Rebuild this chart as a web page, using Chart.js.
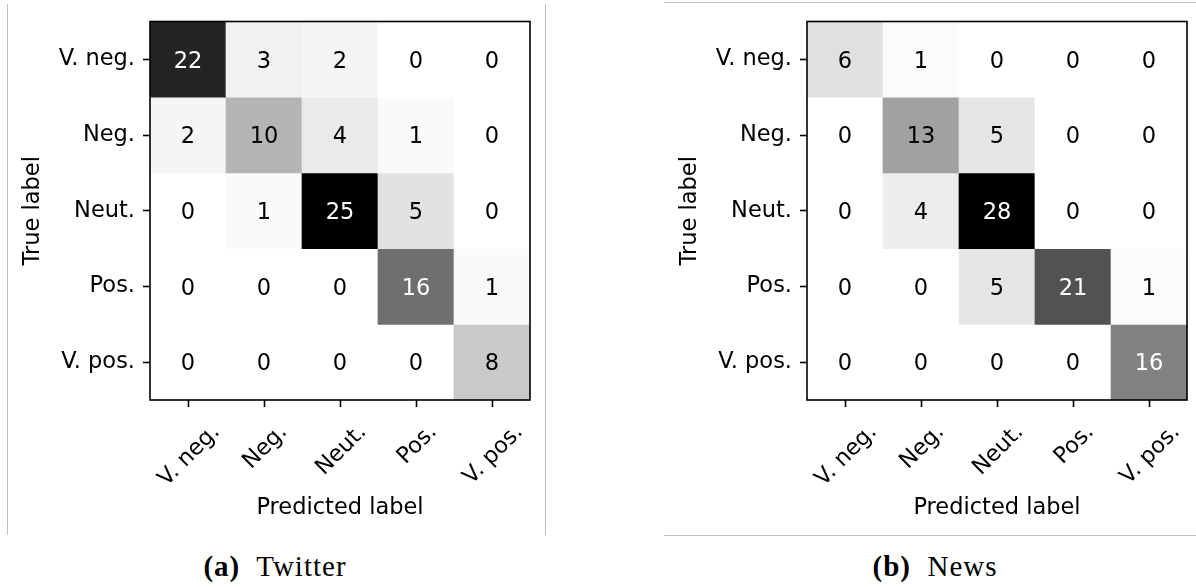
<!DOCTYPE html>
<html>
<head>
<meta charset="utf-8">
<script src="https://cdn.jsdelivr.net/npm/chart.js@4.4.0/dist/chart.umd.min.js"></script>
<style>
html,body{margin:0;padding:0;background:#fff;}
body{width:1196px;height:587px;overflow:hidden;position:relative;}
.wrap{position:absolute;top:0;}
#w1{left:0;width:545px;height:540px;}
#w2{left:600px;width:596px;height:540px;}
.vline{position:absolute;width:1px;background:#bfbfbf;}
.hline{position:absolute;height:1px;background:#bfbfbf;}
.cap{position:absolute;top:552px;font-family:"Liberation Serif","Times New Roman",serif;font-size:29px;line-height:29px;letter-spacing:1px;color:#000;white-space:nowrap;transform:translateX(-50%);}
.cap b{font-weight:bold;}
</style>
</head>
<body>
<div class="vline" style="left:7px;top:4px;height:531px;"></div>
<div class="vline" style="left:545px;top:4px;height:531px;"></div>
<div class="hline" style="left:664px;top:2px;width:532px;"></div>
<div class="hline" style="left:664px;top:535px;width:532px;"></div>
<div class="wrap" id="w1"><canvas id="c1" width="545" height="540"></canvas></div>
<div class="wrap" id="w2"><canvas id="c2" width="596" height="540"></canvas></div>
<div class="cap" style="left:275px;"><b>(a)</b>&nbsp; Twitter</div>
<div class="cap" style="left:935px;"><b>(b)</b>&nbsp; News</div>
<script>
// ---- data ----
const classLabels = ['V. neg.', 'Neg.', 'Neut.', 'Pos.', 'V. pos.'];
const twitterCounts = [
  [22, 3, 2, 0, 0],
  [2, 10, 4, 1, 0],
  [0, 1, 25, 5, 0],
  [0, 0, 0, 16, 1],
  [0, 0, 0, 0, 8]
];
const newsCounts = [
  [6, 1, 0, 0, 0],
  [0, 13, 5, 0, 0],
  [0, 4, 28, 0, 0],
  [0, 0, 5, 21, 1],
  [0, 0, 0, 0, 16]
];
const xAxisTitle = 'Predicted label';
const yAxisTitle = 'True label';

// ---- style ----
const FONT_FAMILY = '"DejaVu Sans", sans-serif';
const FONT_SIZE = 22.5;
const GREYS = [255, 240, 217, 189, 150, 115, 82, 37, 0];
function greys(t) {
  t = Math.max(0, Math.min(1, t));
  const p = t * 8;
  const i = Math.min(7, Math.floor(p));
  const f = p - i;
  const v = Math.round(GREYS[i] + (GREYS[i + 1] - GREYS[i]) * f);
  return 'rgb(' + v + ',' + v + ',' + v + ')';
}

const cellTextPlugin = {
  id: 'cellText',
  afterDatasetsDraw(chart) {
    const ctx = chart.ctx;
    const counts = chart.options.plugins.cellText.counts;
    const flat = counts.flat();
    const mx = Math.max(...flat), mn = Math.min(...flat);
    const thresh = (mx + mn) / 2;
    ctx.save();
    ctx.font = FONT_SIZE + 'px ' + FONT_FAMILY;
    ctx.textAlign = 'center';
    ctx.textBaseline = 'alphabetic';
    chart.data.datasets.forEach((ds, i) => {
      const meta = chart.getDatasetMeta(i);
      meta.data.forEach((el, j) => {
        const v = counts[i][j];
        const cy = (el.y + el.base) / 2;
        ctx.fillStyle = v < thresh ? '#000' : '#fff';
        ctx.fillText(String(v), el.x, cy + 0.364 * FONT_SIZE);
      });
    });
    const a = chart.chartArea;
    ctx.strokeStyle = '#000';
    ctx.lineWidth = 1.6;
    ctx.strokeRect(a.left, a.top, a.right - a.left, a.bottom - a.top);
    ctx.restore();
  },
  afterDraw(chart) {
    const ctx = chart.ctx;
    const xs = chart.scales.x;
    const a = chart.chartArea;
    ctx.save();
    ctx.font = FONT_SIZE + 'px ' + FONT_FAMILY;
    ctx.fillStyle = '#000';
    ctx.textAlign = 'center';
    ctx.textBaseline = 'alphabetic';
    const h = FONT_SIZE * 1.164;
    const top = a.bottom + 18;
    classLabels.forEach((lab, j) => {
      const x = xs.getPixelForValue(j);
      const w = ctx.measureText(lab).width;
      const cy = top + (w + h) / (2 * Math.SQRT2);
      ctx.save();
      ctx.translate(x, cy);
      ctx.rotate(-Math.PI / 4);
      ctx.fillText(lab, 0, 0.346 * FONT_SIZE);
      ctx.restore();
    });
    ctx.restore();
  }
};

function makeChart(id, counts, yAxisW, padRight, yTitlePad) {
  const mx = Math.max(...counts.flat());
  const datasets = counts.map((row, i) => ({
    label: classLabels[i],
    data: row.map(() => [i - 0.5, i + 0.5]),
    backgroundColor: row.map(v => greys(v / mx)),
    borderWidth: 0,
    borderSkipped: false,
    barPercentage: 1,
    categoryPercentage: 1,
    grouped: false
  }));
  const font = { family: FONT_FAMILY, size: FONT_SIZE };
  return new Chart(document.getElementById(id), {
    type: 'bar',
    data: { labels: classLabels, datasets },
    plugins: [cellTextPlugin],
    options: {
      responsive: false,
      animation: false,
      devicePixelRatio: 1,
      layout: { padding: { top: 20, right: padRight, left: 0, bottom: 0 } },
      plugins: {
        legend: { display: false },
        tooltip: { enabled: false },
        cellText: { counts }
      },
      scales: {
        x: {
          type: 'category',
          offset: true,
          grid: { display: true, drawOnChartArea: false, drawTicks: true, tickLength: 7, tickWidth: 1.6, tickColor: '#000', offset: false },
          border: { display: false },
          ticks: { display: false },
          title: { display: true, text: xAxisTitle, font, color: '#000', padding: { top: 0, bottom: 18 } },
          afterFit: s => { s.height = 140; }
        },
        y: {
          type: 'linear',
          min: -0.5,
          max: 4.5,
          reverse: true,
          afterBuildTicks: axis => { axis.ticks = classLabels.map((_, i) => ({ value: i })); },
          ticks: { callback: v => classLabels[v], font, color: '#000', padding: 8, autoSkip: false },
          grid: { display: true, drawOnChartArea: false, drawTicks: true, tickLength: 7, tickWidth: 1.6, tickColor: '#000' },
          border: { display: false },
          title: { display: true, text: yAxisTitle, font, color: '#000', padding: { top: yTitlePad, bottom: 0 } },
          afterFit: s => { s.width = yAxisW; }
        }
      }
    }
  });
}

makeChart('c1', twitterCounts, 150, 15, 20);
makeChart('c2', newsCounts, 207, 9, 77);
</script>
</body>
</html>
